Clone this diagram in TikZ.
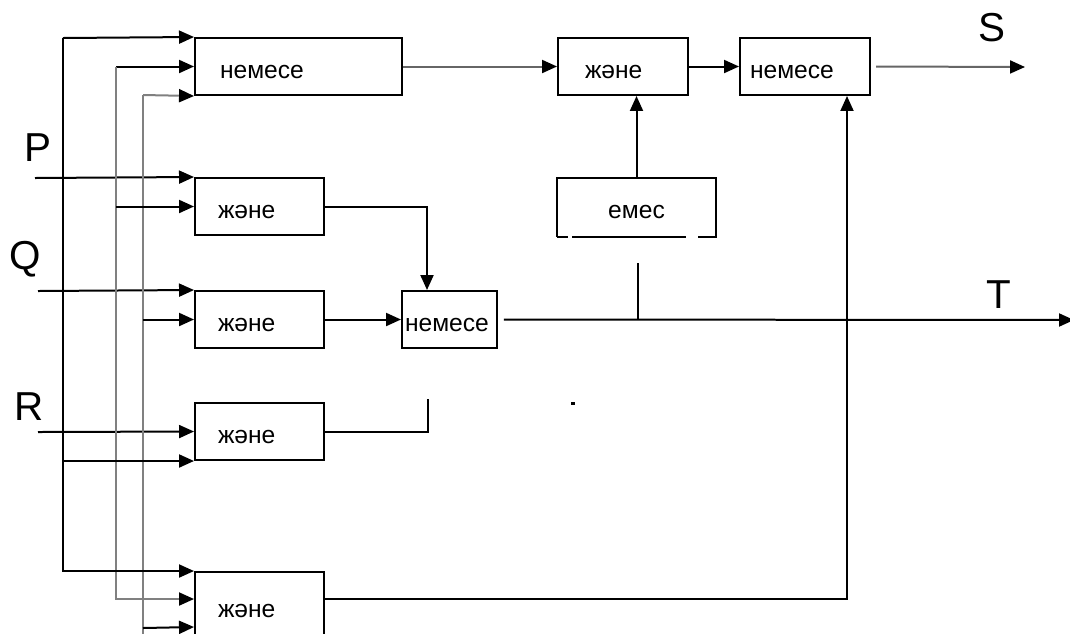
\documentclass[tikz,border=0pt]{standalone}
\usepackage{fontspec}
\setmainfont{Liberation Sans}
\usepackage{tikz}
\usetikzlibrary{arrows.meta,calc}
\tikzset{>={Triangle[length=0.3cm,width=0.26cm,color=black]}}
\tikzset{
  wire/.style={line width=0.04cm},
  bus/.style={line width=0.04cm,black!50},
  gate/.style={draw,line width=0.04cm,minimum height=1.14cm,inner ysep=0pt,align=left,
    text height=0.46cm,text depth=0pt,font=\fontsize{14}{16}\selectfont},
  sig/.style={font=\fontsize{23}{26}\selectfont}
}

\begin{document}
\begin{tikzpicture}[x=0.02cm,y=-0.02cm]
  \useasboundingbox (0,0) rectangle (1070,633);
  \clip (0,0) rectangle (1070,633);

  % gates
  \node[gate,text width=3.14cm,inner xsep=0.5cm] (nor1) at (298.5,66.5) {немесе};
  \node[gate,text width=1.66cm,inner xsep=0.46cm] (and1) at (259.5,206.5) {және};
  \node[gate,text width=1.66cm,inner xsep=0.46cm] (and2) at (259.5,319.5) {және};
  \node[gate,text width=1.66cm,inner xsep=0.46cm] (and3) at (259.5,431.5) {және};
  \node[gate,text width=1.66cm,inner xsep=0.46cm,minimum height=1.36cm] (and4) at (259.5,606) {және};
  \node[gate,text width=1.78cm,inner xsep=0.06cm] (nor2) at (449.5,319.5) {немесе};
  \node[gate,text width=1.52cm,inner xsep=0.54cm] (and5) at (623,66.5) {және};
  \node[gate,text width=2.2cm,inner xsep=0.2cm] (nor3) at (805,66.5) {немесе};
  \node[gate,draw=none,align=center,minimum width=3.14cm] (inv) at (636.5,207) {емес};

  % frame of emes, open at the bottom
  \draw[wire] (inv.south west) -- (inv.north west) -- (inv.north east) -- (inv.south east) -- ++(-18,0);
  \draw[wire] (inv.south west) -- ++(11,0);
  \draw[wire] ([xshift=0.3cm]inv.south west) -- ([xshift=-0.6cm]inv.south east);

  % signal names
  \node[sig] (lblP) at (38,148) {P};
  \node[sig] (lblQ) at (25,259) {Q};
  \node[sig] (lblR) at (29,407) {R};
  \node[sig] (lblS) at (992,28) {S};
  \node[sig] (lblT) at (999,295) {T};

  % inputs
  \coordinate (pin) at (35,178);
  \coordinate (qin) at (38,291);
  \coordinate (rin) at (38,432);
  \draw[wire,->] (pin) -- (and1.north west);
  \draw[wire,->] (qin) -- (and2.north west);
  \draw[wire,->] (rin) -- (and3.west);

  % buses
  \coordinate (busA) at (63,38);
  \coordinate (busB) at (116,66.5);
  \coordinate (busC) at (143,95);
  \draw[bus] (busC) -- (143,640);
  \draw[bus,->] (busC) -- (nor1.south west);
  \draw[wire,->] (busC |- and2.west) -- (and2.west);
  \draw[wire,->] (busC |- 0,628) -- ([yshift=-1.12cm]and4.north west);
  \draw[wire,->] (busB) -- (nor1.west);
  \draw[bus,->] (busB) |- ([yshift=-0.56cm]and4.north west);
  \draw[wire,->] (busB |- and1.west) -- (and1.west);
  \draw[wire,->] (busA) -- (nor1.north west);
  \draw[wire,->] (busA) |- (and4.north west);
  \draw[wire,->] (busA |- and3.south west) -- (and3.south west);

  % outputs
  \draw[wire,->] (and1.east) -| ([xshift=0.52cm]nor2.north west);
  \draw[wire,->] (and2.east) -- (nor2.west);
  \coordinate (stub) at (428,399);
  \draw[wire] (and3.east) -| (stub);
  \draw[wire,->] ([yshift=-0.56cm]and4.north east) -| ([xshift=2.16cm]nor3.south west);
  \draw[wire,black!60,->] (nor1.east) -- (and5.west);
  \draw[wire,->] (and5.east) -- (nor3.west);
  \draw[wire,->] (inv.north) -- (inv.north |- and5.south);
  \coordinate (tap) at (638,263);
  \coordinate (tout) at (1074,320);
  \draw[wire,->] ([xshift=0.12cm]nor2.east) -- (tout);
  \draw[wire] (tap) -- (tap |- tout);
  \coordinate (sout) at (1025,67);
  \draw[wire,black!60,->] ([xshift=0.1cm]nor3.east) -- (sout);

  \fill (571,402) rectangle (575,405);
\end{tikzpicture}
\end{document}
